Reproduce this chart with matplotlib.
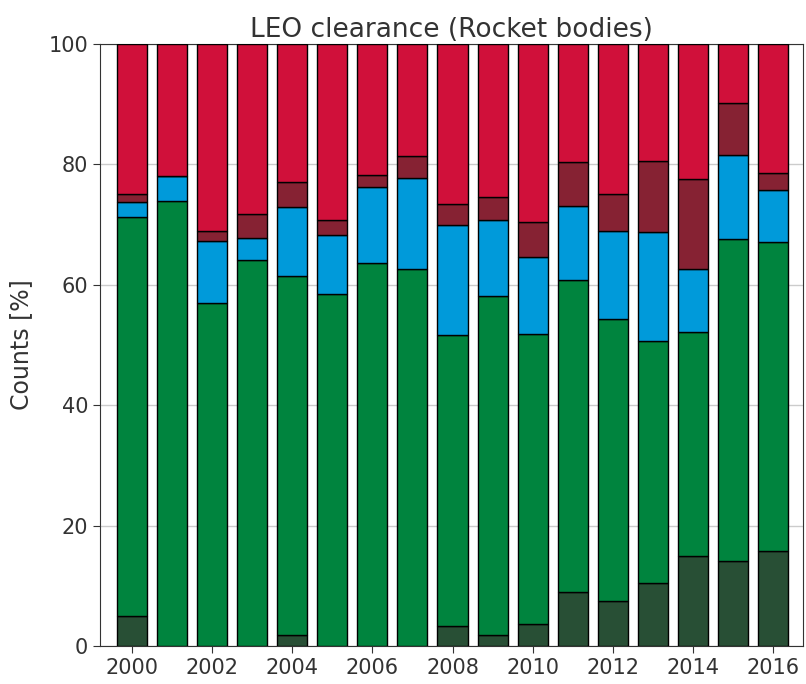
import numpy as np
import matplotlib
matplotlib.use("Agg")
import matplotlib.pyplot as plt

years = np.arange(2000, 2017)

# stacked shares per year [%], bottom to top
dark_green = [5.0, 0.0, 0.0, 0.0, 1.9, 0.0, 0.0, 0.0, 3.4, 1.8, 3.7, 8.9, 7.4, 10.4, 14.9, 14.1, 15.8]
green      = [66.2, 74.0, 56.9, 64.1, 59.6, 58.5, 63.6, 62.7, 48.3, 56.3, 48.1, 51.9, 47.0, 40.3, 37.3, 53.5, 51.3]
blue       = [2.6, 4.0, 10.3, 3.7, 11.5, 9.7, 12.7, 15.1, 18.2, 12.7, 12.9, 12.3, 14.6, 18.0, 10.5, 14.0, 8.6]
dark_red   = [1.2, 0.0, 1.7, 4.0, 4.0, 2.5, 1.9, 3.6, 3.5, 3.8, 5.7, 7.3, 6.0, 11.9, 14.9, 8.6, 2.9]
crimson    = [25.0, 22.0, 31.1, 28.2, 23.0, 29.3, 21.8, 18.6, 26.6, 25.4, 29.6, 19.6, 25.0, 19.4, 22.4, 9.8, 21.4]

series = [dark_green, green, blue, dark_red, crimson]
colors = ["#284F35", "#00843E", "#009ADA", "#862233", "#D0103A"]

fig = plt.figure(figsize=(8.06, 6.84), dpi=100)
ax = fig.add_axes([100 / 806, 38 / 684, 703 / 806, 602 / 684])

bottom = np.zeros(len(years))
for vals, c in zip(series, colors):
    vals = np.array(vals)
    ax.bar(years, vals, width=0.75, bottom=bottom, color=c,
           edgecolor="black", linewidth=1.0, zorder=3)
    bottom += vals

ax.set_xlim(1999.21, 2016.74)
ax.set_ylim(0, 100)
ax.set_xticks(np.arange(2000, 2017, 2))
ax.set_yticks(np.arange(0, 101, 20))
ax.yaxis.grid(True, color="#cccccc", lw=1.0, zorder=0)
ax.tick_params(labelsize=15, direction="out", length=5, color="#333333", labelcolor="#333333")
for s in ax.spines.values():
    s.set_color("#333333")
ax.set_ylabel("Counts [%]", fontsize=17, color="#333333", labelpad=11)
ax.set_title("LEO clearance (Rocket bodies)", fontsize=19, color="#333333", pad=5)

fig.savefig("out.png", dpi=100)
